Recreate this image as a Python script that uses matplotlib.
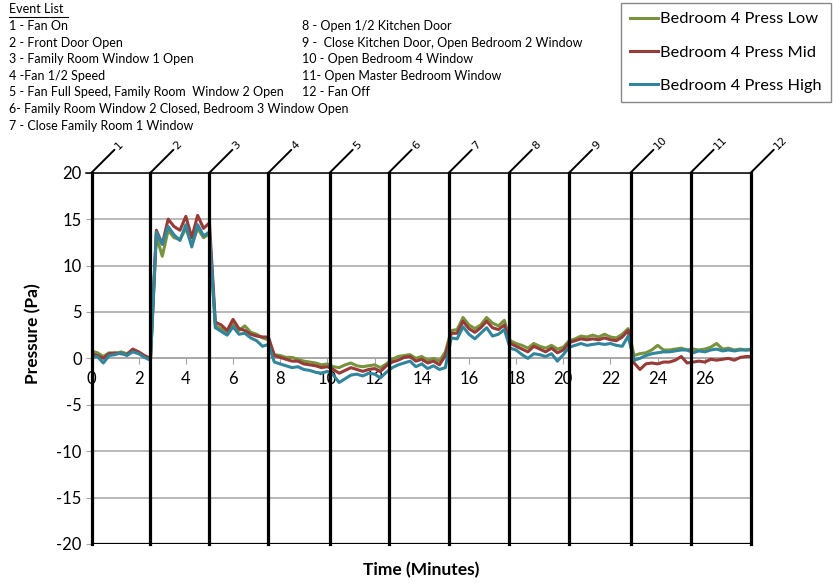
import matplotlib.pyplot as plt
from matplotlib.lines import Line2D

plt.rcParams['font.family'] = ['Lato', 'DejaVu Sans']
plt.rcParams['axes.unicode_minus'] = False

# sample times (minutes), four per minute
minutes = [
    0.0, 0.25, 0.5, 0.75, 1.0, 1.25, 1.5, 1.75, 2.0, 2.25, 2.5, 2.75,
    3.0, 3.25, 3.5, 3.75, 4.0, 4.25, 4.5, 4.75, 5.0, 5.25, 5.5, 5.75,
    6.0, 6.25, 6.5, 6.75, 7.0, 7.25, 7.5, 7.75, 8.0, 8.25, 8.5, 8.75,
    9.0, 9.25, 9.5, 9.75, 10.0, 10.25, 10.5, 10.75, 11.0, 11.25, 11.5, 11.75,
    12.0, 12.25, 12.5, 12.75, 13.0, 13.25, 13.5, 13.75, 14.0, 14.25, 14.5, 14.75,
    15.0, 15.25, 15.5, 15.75, 16.0, 16.25, 16.5, 16.75, 17.0, 17.25, 17.5, 17.75,
    18.0, 18.25, 18.5, 18.75, 19.0, 19.25, 19.5, 19.75, 20.0, 20.25, 20.5, 20.75,
    21.0, 21.25, 21.5, 21.75, 22.0, 22.25, 22.5, 22.75, 23.0, 23.25, 23.5, 23.75,
    24.0, 24.25, 24.5, 24.75, 25.0, 25.25, 25.5, 25.75, 26.0, 26.25, 26.5, 26.75,
    27.0, 27.25, 27.5, 27.75, 28.0,
]

press_low = [
    0.8, 0.6, 0.2, 0.6, 0.5, 0.7, 0.5, 0.9, 0.6, 0.2, -0.1, 13.2,
    11.0, 13.8, 13.0, 12.8, 14.0, 12.2, 14.0, 13.0, 13.4, 3.5, 3.2, 2.6,
    3.7, 3.0, 3.5, 2.8, 2.6, 2.2, 2.0, 0.4, 0.3, 0.1, 0.1, -0.1,
    -0.3, -0.4, -0.5, -0.7, -0.6, -0.9, -1.0, -0.7, -0.5, -0.8, -0.9, -0.8,
    -0.7, -1.0, -0.6, -0.1, 0.2, 0.3, 0.4, 0.0, 0.2, -0.2, 0.0, -0.3,
    0.7, 3.0, 3.1, 4.4, 3.6, 3.2, 3.6, 4.4, 3.8, 3.5, 4.1, 1.9,
    1.6, 1.4, 1.1, 1.6, 1.3, 1.1, 1.4, 1.0, 1.2, 1.9, 2.1, 2.4,
    2.3, 2.5, 2.3, 2.6, 2.3, 2.2, 2.6, 3.2, 0.3, 0.5, 0.6, 0.9,
    1.4, 0.9, 0.9, 1.0, 1.1, 0.9, 1.0, 0.9, 1.0, 1.2, 1.6, 1.0,
    1.1, 0.9, 1.0, 0.9, 0.9,
]

press_mid = [
    0.5, 0.3, 0.0, 0.5, 0.6, 0.5, 0.4, 1.0, 0.7, 0.3, 0.0, 13.8,
    12.3, 15.0, 14.2, 13.8, 15.3, 13.0, 15.4, 14.0, 14.6, 3.9, 3.6, 3.0,
    4.2, 3.2, 3.0, 2.6, 2.4, 2.3, 2.3, 0.3, 0.1, -0.1, -0.3, -0.3,
    -0.6, -0.7, -0.8, -1.0, -0.9, -1.2, -1.6, -1.3, -1.0, -1.2, -1.4, -1.2,
    -1.1, -1.4, -0.8, -0.4, -0.2, 0.1, 0.2, -0.3, -0.1, -0.5, -0.3, -0.7,
    0.3, 2.7, 2.7, 4.0, 3.2, 2.8, 3.3, 4.0, 3.3, 3.1, 3.6, 1.6,
    1.3, 1.0, 0.7, 1.3, 1.0, 0.7, 1.1, 0.6, 0.9, 1.7, 1.9, 2.1,
    2.0, 2.1, 2.0, 2.2, 2.0, 1.9, 2.3, 3.0, -0.5, -1.2, -0.6, -0.5,
    -0.6, -0.4, -0.4, -0.2, 0.2, -0.5, -0.4, -0.3, -0.4, -0.1, -0.2, -0.1,
    0.0, -0.2, 0.1, 0.2, 0.2,
]

press_high = [
    0.1, 0.2, -0.5, 0.3, 0.4, 0.6, 0.3, 0.7, 0.5, 0.1, -0.2, 13.6,
    12.3, 14.2, 13.3, 12.7, 14.4, 12.0, 14.4, 13.2, 13.6, 3.3, 2.9, 2.5,
    3.4, 2.6, 2.7, 2.2, 1.9, 1.3, 1.5, -0.4, -0.6, -0.8, -1.0, -0.9,
    -1.2, -1.3, -1.5, -1.6, -1.4, -1.8, -2.6, -2.2, -1.8, -1.7, -1.9, -1.6,
    -1.7, -2.1, -1.5, -1.0, -0.7, -0.5, -0.3, -0.9, -0.6, -1.1, -0.8, -1.2,
    -1.0, 2.2, 2.1, 3.4, 2.6, 2.1, 2.7, 3.3, 2.4, 2.6, 3.1, 1.1,
    0.9, 0.4, 0.0, 0.5, 0.4, 0.2, 0.5, -0.3, 0.4, 1.2, 1.4, 1.6,
    1.4, 1.5, 1.6, 1.5, 1.6, 1.4, 1.3, 2.4, -0.2, 0.0, 0.3, 0.5,
    0.6, 0.7, 0.7, 0.8, 0.9, 0.9, 0.6, 0.8, 0.7, 0.9, 1.0, 0.8,
    0.9, 0.8, 0.9, 0.9, 1.0,
]

event_times = [0.0, 2.5, 5.0, 7.5, 10.1, 12.6, 15.15, 17.7, 20.25, 22.85, 25.4, 27.95]
event_labels = ['1', '2', '3', '4', '5', '6', '7', '8', '9', '10', '11', '12']

events_left = [
    '1 - Fan On',
    '2 - Front Door Open',
    '3 - Family Room Window 1 Open',
    '4 -Fan 1/2 Speed',
    '5 - Fan Full Speed, Family Room  Window 2 Open',
    '6- Family Room Window 2 Closed, Bedroom 3 Window Open',
    '7 - Close Family Room 1 Window',
]
events_right = [
    '8 - Open 1/2 Kitchen Door',
    '9 -  Close Kitchen Door, Open Bedroom 2 Window',
    '10 - Open Bedroom 4 Window',
    '11- Open Master Bedroom Window',
    '12 - Fan Off',
]

W, H = 833, 583
fig = plt.figure(figsize=(W / 100, H / 100), dpi=100)
ax = fig.add_axes([91.5 / W, 1 - 544 / H, (752 - 91.5) / W, (544 - 172.7) / H])

grid_c = '#a6a6a6'
ax.plot(minutes, press_low, color='#77933c', lw=2.2, label='Bedroom 4 Press Low', zorder=3)
ax.plot(minutes, press_mid, color='#983a37', lw=2.2, label='Bedroom 4 Press Mid', zorder=3)
ax.plot(minutes, press_high, color='#31859c', lw=2.2, label='Bedroom 4 Press High', zorder=3)

ax.set_xlim(0, 28)
ax.set_ylim(-20, 20)
ax.set_yticks(range(-20, 21, 5))
ax.set_xticks(range(0, 27, 2))
ax.yaxis.grid(True, color=grid_c, lw=1.1)
ax.set_axisbelow(True)

for s in ['top', 'right', 'left']:
    ax.spines[s].set_visible(False)
ax.spines['bottom'].set_position(('data', 0))
ax.spines['bottom'].set_color(grid_c)
ax.spines['bottom'].set_linewidth(1.1)
ax.tick_params(axis='x', direction='out', length=4, color=grid_c, labelsize=12, pad=5)
ax.tick_params(axis='y', direction='out', length=4, color=grid_c, labelsize=12, pad=3)

# bottom border and top event bar
ax.axhline(-20, color='black', lw=1.6, zorder=4)
ax.add_line(Line2D([-0.009, 1.0], [1.0, 1.0], transform=ax.transAxes,
                   color='black', lw=1.1, clip_on=False, zorder=4))

for t, lab in zip(event_times, event_labels):
    ax.axvline(t, color='black', lw=2.3, zorder=4, clip_on=False)
    ax.annotate('', xy=(t, 20), xytext=(16.5, 16.5), textcoords='offset points',
                arrowprops=dict(arrowstyle='-', color='black', lw=1.4,
                                shrinkA=0, shrinkB=0), annotation_clip=False)
    ax.annotate(lab, xy=(t, 20), xytext=(18, 18), textcoords='offset points',
                rotation=45, rotation_mode='anchor', ha='left', va='center',
                fontsize=8, family='DejaVu Sans', annotation_clip=False)

fig.text(33 / W, 1 - 334 / H, 'Pressure (Pa)', rotation=90, ha='center', va='center',
         fontsize=12.5, fontweight='bold')
fig.text(421 / W, 1 - 570 / H, 'Time (Minutes)', ha='center', va='center',
         fontsize=12.5, fontweight='bold')

# event list
fig.text(9 / W, 1 - 9 / H, 'Event List', fontsize=9, va='center')
fig.add_artist(Line2D([9 / W, 68 / W], [1 - 16.5 / H, 1 - 16.5 / H], color='black', lw=0.8))
for i, s in enumerate(events_left):
    fig.text(9 / W, 1 - (26 + 16.6 * i) / H, s, fontsize=9, va='center')
for i, s in enumerate(events_right):
    fig.text(302 / W, 1 - (26 + 16.6 * i) / H, s, fontsize=9, va='center')

fig.legend(loc='upper left', bbox_to_anchor=(621 / W, 1 - 3 / H), fontsize=11.8,
           frameon=True, fancybox=False, edgecolor='#888888', framealpha=1,
           handlelength=1.7, handletextpad=0.15, labelspacing=1.15, borderpad=0.55,
           borderaxespad=0)

fig.savefig('out.png', dpi=100)
